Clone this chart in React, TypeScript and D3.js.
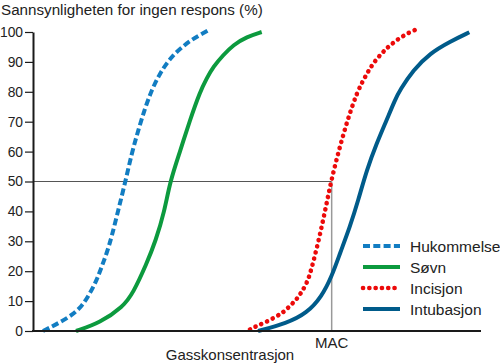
import * as d3 from "d3";
import { useEffect, useRef } from "react";

// concentration relative to MAC (MAC = 1), probability of no response (%)
const hukommelse: [number, number][] = [
  [0.0335, 0], [0.0737, 2], [0.1239, 4.8], [0.1631, 8.1], [0.1908, 12.6], [0.2133, 17],
  [0.23, 21.5], [0.2468, 26], [0.2635, 31.5], [0.2856, 40.5], [0.308, 49.4], [0.3305, 59.4],
  [0.3526, 67.2], [0.375, 74.5], [0.3974, 80.6], [0.4252, 86.2], [0.4477, 89.5],
  [0.4698, 92.3], [0.4979, 94.8], [0.5257, 97.1], [0.5592, 99], [0.5926, 100.9],
];
const sovn: [number, number][] = [
  [0.144, 0], [0.2243, 2.7], [0.3013, 8.1], [0.3348, 12.6], [0.3807, 22.6], [0.4102, 30],
  [0.4403, 40], [0.4587, 50], [0.4922, 60], [0.5257, 70.6], [0.5592, 80], [0.5816, 84.5],
  [0.6037, 88.4], [0.6372, 92.3], [0.6706, 95.7], [0.7155, 98.4], [0.7657, 100],
];
const incisjon: [number, number][] = [
  [0.7265, 0.5], [0.749, 1.7], [0.7768, 2.8], [0.8103, 4.6], [0.8381, 6.2], [0.8605, 8.4],
  [0.8829, 10.6], [0.8997, 13.1], [0.9164, 15.9], [0.9308, 20], [0.9559, 30], [0.9777, 40],
  [0.9978, 50], [1.0229, 60], [1.0513, 70], [1.0848, 80], [1.1173, 86], [1.1417, 90],
  [1.1719, 93.3], [1.1886, 95], [1.2254, 97.9], [1.2623, 100], [1.2847, 100.9],
];
const intubasjon: [number, number][] = [
  [0.7535, 0], [0.8494, 2.6], [0.9164, 5.9], [0.9666, 11.5], [1.0001, 18.2], [1.0279, 26],
  [1.0614, 34.9], [1.0892, 43.8], [1.1173, 53.8], [1.1508, 62.8], [1.1843, 70.6],
  [1.212, 77.3], [1.2288, 80.6], [1.2733, 87.3], [1.3292, 92.9], [1.3962, 96.8], [1.4608, 99.9],
];

const series = [
  { name: "Hukommelse", data: hukommelse, color: "#127dc2", dash: "7 3.3", cap: "butt", width: 4 },
  { name: "Søvn", data: sovn, color: "#0c9a3e", dash: null, cap: "butt", width: 4 },
  { name: "Incisjon", data: incisjon, color: "#ec0a0a", dash: "0.1 6.2", cap: "round", width: 4.6 },
  { name: "Intubasjon", data: intubasjon, color: "#005b8a", dash: null, cap: "butt", width: 4 },
];

const yTicks = [0, 10, 20, 30, 40, 50, 60, 70, 80, 90, 100];
const macValue = 1;
const refLevel = 50;
const font = "'Liberation Sans', Arial, sans-serif";

const App = () => {
  const ref = useRef<SVGSVGElement>(null);

  useEffect(() => {
    const svg = d3.select(ref.current);
    svg.selectAll("*").remove();

    const x = d3.scaleLinear().domain([0, 1.5]).range([33, 481]);
    const y = d3.scaleLinear().domain([0, 100]).range([331, 32]);

    // title
    svg.append("text")
      .attr("x", 1).attr("y", 15)
      .attr("font-size", 15.2).attr("font-family", font).attr("fill", "#222")
      .text("Sannsynligheten for ingen respons (%)");

    // 50% reference and MAC line
    svg.append("line")
      .attr("x1", x(0)).attr("x2", x(macValue))
      .attr("y1", y(refLevel)).attr("y2", y(refLevel))
      .attr("stroke", "#555").attr("stroke-width", 1);
    svg.append("line")
      .attr("x1", x(macValue)).attr("x2", x(macValue))
      .attr("y1", y(refLevel)).attr("y2", y(0))
      .attr("stroke", "#999").attr("stroke-width", 1.5);

    // curves
    const line = d3.line<[number, number]>()
      .x((d) => x(d[0]))
      .y((d) => y(d[1]))
      .curve(d3.curveBasis);
    series.forEach((s) => {
      svg.append("path")
        .datum(s.data)
        .attr("fill", "none")
        .attr("stroke", s.color)
        .attr("stroke-width", s.width)
        .attr("stroke-linecap", s.cap)
        .attr("stroke-dasharray", s.dash)
        .attr("d", line);
    });

    // y axis
    const yAxis = svg.append("g")
      .attr("transform", `translate(${x(0)},0)`)
      .call(d3.axisLeft(y).tickValues(yTicks).tickSize(8).tickSizeOuter(0).tickPadding(2));
    yAxis.select(".domain").attr("stroke", "#1a1a1a").attr("stroke-width", 2);
    yAxis.selectAll(".tick line").attr("stroke", "#1a1a1a").attr("stroke-width", 1.2);
    yAxis.selectAll(".tick text")
      .attr("font-size", 13.8).attr("font-family", font).attr("fill", "#222");

    // x axis
    svg.append("line")
      .attr("x1", x(0) - 1).attr("x2", x(1.5))
      .attr("y1", y(0)).attr("y2", y(0))
      .attr("stroke", "#1a1a1a").attr("stroke-width", 2);

    svg.append("text")
      .attr("x", x(macValue)).attr("y", 348)
      .attr("text-anchor", "middle")
      .attr("font-size", 15).attr("font-family", font).attr("fill", "#222")
      .text("MAC");
    svg.append("text")
      .attr("x", 230).attr("y", 360)
      .attr("text-anchor", "middle")
      .attr("font-size", 15).attr("font-family", font).attr("fill", "#222")
      .text("Gasskonsentrasjon");

    // legend
    const legend = svg.append("g").attr("transform", "translate(363,246)");
    series.forEach((s, i) => {
      const g = legend.append("g").attr("transform", `translate(0,${i * 21})`);
      g.append("line")
        .attr("x1", 0).attr("x2", 37).attr("y1", 0).attr("y2", 0)
        .attr("stroke", s.color)
        .attr("stroke-width", s.width)
        .attr("stroke-linecap", s.cap)
        .attr("stroke-dasharray", s.dash);
      g.append("text")
        .attr("x", 47).attr("y", 5.5)
        .attr("font-size", 15.5).attr("font-family", font).attr("fill", "#222")
        .text(s.name);
    });
  }, []);

  return (
    <svg
      ref={ref}
      width={500}
      height={364}
      style={{ position: "absolute", left: 0, top: 0, background: "#fff" }}
    />
  );
};

export default App;
